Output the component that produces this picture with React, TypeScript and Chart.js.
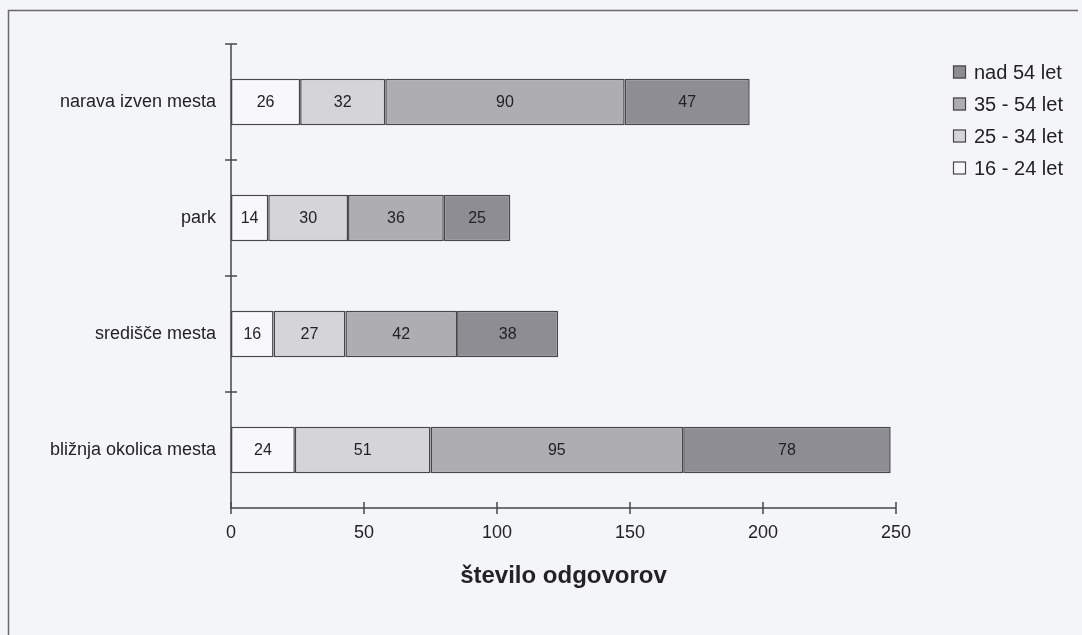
import React, { useEffect, useRef } from "react";
import { Chart, registerables } from "chart.js";

Chart.register(...registerables);

const categories = ["narava izven mesta", "park", "središče mesta", "bližnja okolica mesta"];
const seriesNames = ["16 - 24 let", "25 - 34 let", "35 - 54 let", "nad 54 let"];
const age16to24 = [26, 14, 16, 24];
const age25to34 = [32, 30, 27, 51];
const age35to54 = [90, 36, 42, 95];
const ageOver54 = [47, 25, 38, 78];
const xTicks = [0, 50, 100, 150, 200, 250];
const axisTitle = "število odgovorov";

const fills = ["#f8f8fa", "#d4d4d9", "#adadb2", "#8d8d93"];
const FONT = "'Liberation Sans', Arial, sans-serif";
const TEXT = "#232323";
const LINE = "#474747";

const decorPlugin = {
  id: "decor",
  afterDatasetsDraw(chart: any) {
    const ctx = chart.ctx;
    ctx.save();
    ctx.font = `16px ${FONT}`;
    ctx.fillStyle = TEXT;
    ctx.textAlign = "center";
    ctx.textBaseline = "middle";
    chart.data.datasets.forEach((ds: any, di: number) => {
      const meta = chart.getDatasetMeta(di);
      meta.data.forEach((el: any, i: number) => {
        const v = ds.data[i];
        ctx.fillText(String(v), (el.x + el.base) / 2, el.y + 1);
      });
    });
    ctx.restore();
  },
  afterDraw(chart: any) {
    const ctx = chart.ctx;
    const xs = chart.scales.x;
    const ys = chart.scales.y;
    const area = chart.chartArea;
    ctx.save();
    // frame (left and top edges visible)
    ctx.strokeStyle = "#6a6a6a";
    ctx.lineWidth = 1.5;
    ctx.beginPath();
    ctx.moveTo(8.5, chart.height);
    ctx.lineTo(8.5, 10.5);
    ctx.lineTo(chart.width - 4, 10.5);
    ctx.stroke();
    // axes
    ctx.strokeStyle = LINE;
    ctx.lineWidth = 1.5;
    ctx.beginPath();
    ctx.moveTo(area.left, area.top);
    ctx.lineTo(area.left, area.bottom);
    ctx.lineTo(area.right, area.bottom);
    ctx.stroke();
    // x ticks crossing
    xTicks.forEach((t) => {
      const px = xs.getPixelForValue(t);
      ctx.beginPath();
      ctx.moveTo(px, area.bottom - 6);
      ctx.lineTo(px, area.bottom + 6);
      ctx.stroke();
    });
    // y ticks at category boundaries
    const n = categories.length;
    const step = (area.bottom - area.top) / n;
    for (let i = 0; i < n; i++) {
      const c = ys.getPixelForValue(i);
      const b = c - step / 2;
      ctx.beginPath();
      ctx.moveTo(area.left - 6, b);
      ctx.lineTo(area.left + 6, b);
      ctx.stroke();
    }
    // legend (reverse order)
    ctx.font = `20px ${FONT}`;
    ctx.textAlign = "left";
    ctx.textBaseline = "middle";
    const lx = 953;
    const ly = 72;
    const order = [3, 2, 1, 0];
    order.forEach((si, r) => {
      const y = ly + r * 32;
      ctx.fillStyle = fills[si];
      ctx.fillRect(lx, y - 6.5, 13, 13);
      ctx.strokeStyle = LINE;
      ctx.lineWidth = 1.2;
      ctx.strokeRect(lx + 0.5, y - 6, 12, 12);
      ctx.fillStyle = TEXT;
      ctx.fillText(seriesNames[si], lx + 21, y + 1);
    });
    ctx.restore();
  },
};

export default function App() {
  const ref = useRef<HTMLCanvasElement | null>(null);
  useEffect(() => {
    if (!ref.current) return;
    const seriesData = [age16to24, age25to34, age35to54, ageOver54];
    const chart = new Chart(ref.current, {
      type: "bar",
      data: {
        labels: categories,
        datasets: seriesNames.map((name, i) => ({
          label: name,
          data: seriesData[i],
          backgroundColor: fills[i],
          borderColor: LINE,
          borderWidth: 1.5,
          borderSkipped: false,
          barPercentage: 0.4,
          categoryPercentage: 1,
        })),
      },
      options: {
        indexAxis: "y",
        animation: false,
        responsive: false,
        maintainAspectRatio: false,
        layout: { padding: { top: 44, right: 186, left: 0, bottom: 0 } },
        plugins: { legend: { display: false }, tooltip: { enabled: false } },
        scales: {
          x: {
            stacked: true,
            min: 0,
            max: 250,
            grid: { display: false, drawTicks: false },
            border: { display: false },
            ticks: { stepSize: 50, font: { family: FONT, size: 18 }, color: TEXT, padding: 14 },
            title: {
              display: true,
              text: axisTitle,
              font: { family: FONT, size: 24, weight: "bold" },
              color: TEXT,
              padding: { top: 0, bottom: 44 },
            },
            afterFit(s: any) {
              s.height = 127;
              s.paddingLeft = 0;
              s.paddingRight = 0;
            },
          },
          y: {
            stacked: true,
            grid: { display: false, drawTicks: false },
            border: { display: false },
            ticks: { font: { family: FONT, size: 18 }, color: TEXT, padding: 15 },
            afterFit(s: any) {
              s.width = 231;
              s.paddingTop = 0;
              s.paddingBottom = 0;
            },
          },
        },
      },
      plugins: [decorPlugin],
    } as any);
    return () => chart.destroy();
  }, []);
  return (
    <div style={{ position: "absolute", left: 0, top: 0, width: 1082, height: 635, background: "#f4f5f9" }}>
      <canvas ref={ref} width={1082} height={635} style={{ display: "block" }} />
    </div>
  );
}
